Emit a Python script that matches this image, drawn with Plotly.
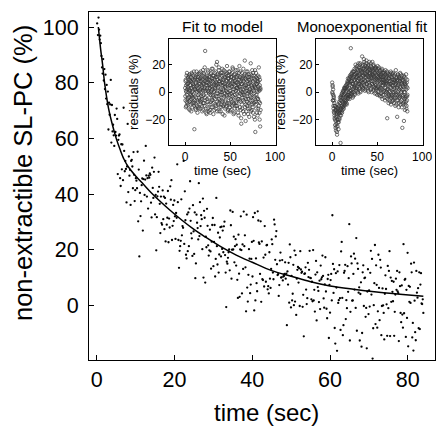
import plotly.graph_objects as go

# ---------------- data ----------------
# main panel: measured points (time in s, non-extractible SL-PC in %)
main_points = [
(0.1,101.3),(0.3,97.1),(0.45,103.4),(0.6,99.1),(0.75,95.5),(0.9,96.9),
(1.05,94.2),(1.2,89.6),(1.35,85.5),(1.5,83.3),(1.65,88.5),(1.8,80.8),(1.95,84.9),
(2.1,77.7),(2.25,82.9),(2.4,74.3),(2.55,79.2),(2.7,72.3),(2.85,76.8),
(3.0,63.2),(3.15,72.8),(3.3,68.5),(3.45,72.2),(3.6,81.0),(3.75,58.5),(3.9,72.0),
(4.05,62.5),(4.2,64.9),(4.35,61.1),(4.5,57.3),(4.65,68.4),(4.8,62.3),(4.95,61.0),
(5.1,70.7),(5.25,67.0),(5.4,47.2),(5.55,59.5),(5.7,61.0),(5.85,61.4),(6.0,45.7),
(6.15,42.9),(6.3,57.9),(6.45,48.9),(6.6,57.8),(6.75,45.0),(6.9,71.0),
(7.05,55.5),(7.2,48.2),(7.35,51.9),(7.5,49.0),(7.65,37.0),(7.8,49.9),(7.95,65.2),
(8.1,40.7),(8.25,53.5),(8.4,46.6),(8.55,48.7),(8.7,36.1),(8.85,51.9),
(9.0,52.3),(9.15,49.9),(9.3,42.1),(9.45,55.1),(9.6,46.9),(9.75,37.5),(9.9,41.4),
(10.05,45.7),(10.2,44.8),(10.35,42.1),(10.5,55.2),(10.65,30.2),(10.8,48.8),(10.95,17.6),
(11.1,40.4),(11.25,32.1),(11.4,37.4),(11.55,43.2),(11.7,45.6),(11.85,26.9),
(12.0,45.4),(12.15,52.0),(12.3,39.7),(12.45,45.2),(12.6,57.3),(12.75,46.7),(12.9,39.1),
(13.05,45.7),(13.2,34.8),(13.35,46.6),(13.5,45.9),(13.65,47.4),(13.8,46.9),(13.95,36.9),
(14.1,31.6),(14.25,49.5),(14.4,42.2),(14.55,38.6),(14.7,48.0),(14.85,53.1),
(15.0,32.7),(15.15,39.7),(15.3,19.8),(15.45,31.7),(15.6,39.2),(15.75,40.9),(15.9,48.0),
(16.05,42.6),(16.2,36.5),(16.35,26.0),(16.5,39.1),(16.65,29.6),(16.8,29.0),(16.95,41.3),
(17.1,31.0),(17.25,39.1),(17.4,27.4),(17.55,38.6),(17.7,23.0),(17.85,36.6),
(18.0,29.0),(18.15,31.5),(18.3,41.1),(18.45,22.7),(18.6,31.2),(18.75,28.0),(18.9,42.8),
(19.05,38.0),(19.2,45.0),(19.35,23.5),(19.5,28.6),(19.65,36.1),(19.8,30.3),(19.95,37.7),
(20.1,32.0),(20.25,23.9),(20.4,33.2),(20.55,31.5),(20.7,50.7),(20.85,37.1),
(21.0,23.5),(21.15,13.5),(21.3,19.6),(21.45,21.3),(21.6,23.2),(21.75,38.1),(21.9,25.2),
(22.05,28.5),(22.2,27.9),(22.35,51.9),(22.5,22.1),(22.65,41.0),(22.8,30.6),(22.95,18.2),
(23.1,16.9),(23.25,32.7),(23.4,19.5),(23.55,33.4),(23.7,21.3),(23.85,34.8),
(24.0,44.6),(24.15,30.4),(24.3,25.9),(24.45,24.1),(24.6,17.8),(24.75,36.0),(24.9,26.6),
(25.05,18.5),(25.2,33.4),(25.35,9.8),(25.5,15.1),(25.65,32.6),(25.8,29.7),(25.95,27.8),
(26.1,23.7),(26.25,43.9),(26.4,24.9),(26.55,37.1),(26.7,28.5),(26.85,32.4),
(27.0,31.0),(27.15,20.2),(27.3,38.4),(27.45,10.0),(27.6,34.0),(27.75,31.5),(27.9,8.2),
(28.05,24.7),(28.2,20.9),(28.35,34.7),(28.5,28.6),(28.65,21.6),(28.8,17.9),(28.95,19.8),
(29.1,27.2),(29.25,19.4),(29.4,13.2),(29.55,22.9),(29.7,28.9),(29.85,31.4),
(30.0,14.1),(30.15,22.8),(30.3,28.9),(30.45,10.4),(30.6,16.7),(30.75,38.6),(30.9,21.3),
(31.05,14.7),(31.2,26.1),(31.35,11.8),(31.5,18.3),(31.65,24.4),(31.8,28.1),(31.95,17.6),
(32.1,28.3),(32.25,20.3),(32.4,26.9),(32.55,19.1),(32.7,28.4),(32.85,30.1),
(33.0,18.1),(33.15,11.8),(33.3,-0.6),(33.45,15.7),(33.6,15.0),(33.75,17.1),(33.9,19.1),
(34.05,20.1),(34.2,12.6),(34.35,34.1),(34.5,28.8),(34.65,9.6),(34.8,20.0),(34.95,33.6),
(35.1,20.1),(35.25,24.7),(35.4,15.5),(35.55,21.3),(35.7,23.8),(35.85,14.3),
(36.0,21.8),(36.15,9.2),(36.3,2.7),(36.45,25.4),(36.6,11.4),(36.75,3.1),(36.9,20.1),
(37.05,32.0),(37.2,19.9),(37.35,4.3),(37.5,21.9),(37.65,13.1),(37.8,33.7),(37.95,21.3),
(38.1,25.2),(38.25,13.7),(38.4,-2.1),(38.55,32.6),(38.7,6.4),(38.85,1.4),
(39.0,11.0),(39.15,20.2),(39.3,16.8),(39.45,4.4),(39.6,7.5),(39.75,16.7),(39.9,22.8),
(40.05,10.4),(40.2,31.7),(40.35,23.2),(40.5,-1.8),(40.65,33.2),(40.8,1.8),(40.95,16.9),
(41.1,8.0),(41.25,5.1),(41.4,33.8),(41.55,30.5),(41.7,22.6),(41.85,22.1),
(42.0,11.3),(42.15,30.2),(42.3,1.3),(42.45,23.0),(42.6,9.4),(42.75,9.1),(42.9,17.2),
(43.05,6.8),(43.2,28.5),(43.35,18.2),(43.5,8.5),(43.65,21.6),(43.8,21.7),(43.95,5.8),
(44.1,6.9),(44.25,4.3),(44.4,19.1),(44.55,9.6),(44.7,6.3),(44.85,13.1),
(45.0,23.7),(45.15,22.0),(45.3,11.8),(45.45,9.4),(45.6,30.8),(45.75,29.1),(45.9,16.4),
(46.05,24.8),(46.2,26.7),(46.35,14.8),(46.5,10.9),(46.65,11.2),(46.8,3.4),(46.95,7.3),
(47.1,16.1),(47.25,19.0),(47.4,10.0),(47.55,10.1),(47.7,16.3),(47.85,9.0),
(48.0,10.4),(48.15,10.6),(48.3,11.3),(48.45,15.5),(48.6,9.6),(48.75,11.4),(48.9,-7.1),
(49.05,12.2),(49.2,7.5),(49.35,15.3),(49.5,1.0),(49.65,21.9),(49.8,17.3),(49.95,-0.7),
(50.1,10.6),(50.25,1.8),(50.4,4.2),(50.55,14.6),(50.7,0.1),(50.85,19.7),
(51.0,1.4),(51.15,18.1),(51.3,-3.4),(51.45,9.6),(51.6,12.8),(51.75,13.8),(51.9,8.2),
(52.05,13.4),(52.2,-0.2),(52.35,19.5),(52.5,12.9),(52.65,11.7),(52.8,12.1),(52.95,-0.5),
(53.1,3.8),(53.25,-11.1),(53.4,11.3),(53.55,11.5),(53.7,13.7),(53.85,5.7),
(54.0,0.5),(54.15,2.6),(54.3,15.3),(54.45,10.2),(54.6,12.8),(54.75,19.6),(54.9,9.9),
(55.05,9.8),(55.2,2.2),(55.35,8.5),(55.5,1.5),(55.65,19.9),(55.8,1.8),(55.95,5.6),
(56.1,-2.2),(56.25,11.1),(56.4,16.0),(56.55,-5.4),(56.7,11.9),(56.85,6.6),
(57.0,5.2),(57.15,1.2),(57.3,8.9),(57.45,-1.3),(57.6,14.3),(57.75,9.4),(57.9,10.1),
(58.05,17.9),(58.2,10.6),(58.35,2.5),(58.5,-0.8),(58.65,7.6),(58.8,17.3),(58.95,5.0),
(59.1,-1.2),(59.25,-4.6),(59.4,9.5),(59.55,11.0),(59.7,-11.7),(59.85,7.4),
(60.0,-2.6),(60.15,9.1),(60.3,11.3),(60.45,1.8),(60.6,32.4),(60.75,14.9),(60.9,4.5),
(61.05,13.0),(61.2,-8.1),(61.35,-13.7),(61.5,11.6),(61.65,6.4),(61.8,-16.3),(61.95,12.2),
(62.1,0.9),(62.25,1.9),(62.4,14.5),(62.55,2.6),(62.7,-8.8),(62.85,19.4),
(63.0,22.8),(63.15,2.7),(63.3,-10.7),(63.45,-7.1),(63.6,11.7),(63.75,12.4),(63.9,14.6),
(64.05,-4.9),(64.2,1.9),(64.35,-1.0),(64.5,14.1),(64.65,4.9),(64.8,9.8),(64.95,29.2),
(65.1,-12.6),(65.25,-2.3),(65.4,17.6),(65.55,15.1),(65.7,1.7),(65.85,1.8),
(66.0,11.3),(66.15,18.6),(66.3,5.7),(66.45,16.8),(66.6,-0.9),(66.75,24.2),(66.9,-9.1),
(67.05,15.1),(67.2,13.1),(67.35,4.6),(67.5,6.5),(67.65,-12.6),(67.8,4.1),(67.95,8.3),
(68.1,-14.8),(68.25,-9.9),(68.4,11.9),(68.55,14.4),(68.7,-0.2),(68.85,9.8),
(69.0,10.0),(69.15,-4.1),(69.3,-0.9),(69.45,-15.4),(69.6,5.0),(69.75,13.0),(69.9,-3.1),
(70.05,5.4),(70.2,-0.4),(70.35,11.7),(70.5,19.6),(70.65,3.9),(70.8,16.7),(70.95,-19.1),
(71.1,-8.2),(71.25,0.1),(71.4,8.0),(71.55,21.7),(71.7,-6.7),(71.85,14.4),
(72.0,7.4),(72.15,-8.0),(72.3,-2.1),(72.45,18.2),(72.6,6.3),(72.75,-5.3),(72.9,16.4),
(73.05,13.6),(73.2,-10.7),(73.35,-0.2),(73.5,6.1),(73.65,0.0),(73.8,-2.7),(73.95,-12.2),
(74.1,4.2),(74.25,10.8),(74.4,5.9),(74.55,0.4),(74.7,-10.9),(74.85,14.2),
(75.0,-1.0),(75.15,12.4),(75.3,19.5),(75.45,-11.0),(75.6,10.0),(75.75,1.3),(75.9,8.8),
(76.05,4.9),(76.2,1.5),(76.35,8.5),(76.5,-10.9),(76.65,-2.3),(76.8,3.9),(76.95,9.6),
(77.1,5.6),(77.25,12.4),(77.4,5.0),(77.55,4.4),(77.7,-12.8),(77.85,11.9),
(78.0,6.9),(78.15,-2.7),(78.3,-6.0),(78.45,7.2),(78.6,-3.3),(78.75,-8.0),(78.9,22.0),
(79.05,-2.8),(79.2,9.2),(79.35,9.5),(79.5,-11.3),(79.65,5.6),(79.8,-4.5),(79.95,18.9),
(80.1,-14.7),(80.25,7.0),(80.4,1.3),(80.55,6.7),(80.7,0.9),(80.85,15.0),
(81.0,11.9),(81.15,-11.5),(81.3,-6.3),(81.45,-16.2),(81.6,15.4),(81.75,1.7),(81.9,-9.6),
(82.05,-12.5),(82.2,12.4),(82.35,4.6),(82.5,2.8),(82.65,6.2),(82.8,-8.2),(82.95,11.9),
(83.1,-8.5),(83.25,7.5),(83.4,11.6),(83.55,0.7),(83.7,0.5),(83.85,2.2),(84.0,-2.7),
]
main_t = [p[0] for p in main_points]
main_v = [p[1] for p in main_points]

# fitted model curve
curve_t = [0.4, 1, 1.5, 2, 3, 4, 5, 6, 7, 8, 10, 12, 14, 16, 19, 22, 25, 28,
           32, 36, 40, 45, 50, 55, 60, 66, 72, 78, 84]
curve_v = [100, 92, 86.5, 80, 71, 65, 60, 56, 52.5, 50, 46.5, 43.5, 40.5, 37.8,
           34, 30.5, 27.3, 24.5, 21, 18, 15.5, 12.5, 10.5, 8.5, 7, 5.8, 4.8, 4, 3.3]

# insets: residual sample times (s), two interleaved batches
inset_t_a = [
0.0,0.3,0.6,0.9,1.2,1.5,1.8,2.1,2.4,2.7,
3.0,3.3,3.6,3.9,4.2,4.5,4.8,5.1,5.4,5.7,
6.0,6.3,6.6,6.9,7.2,7.5,7.8,8.1,8.4,8.7,
9.0,9.3,9.6,9.9,10.2,10.5,10.8,11.1,11.4,11.7,
12.0,12.3,12.6,12.9,13.2,13.5,13.8,14.1,14.4,14.7,
15.0,15.3,15.6,15.9,16.2,16.5,16.8,17.1,17.4,17.7,
18.0,18.3,18.6,18.9,19.2,19.5,19.8,20.1,20.4,20.7,
21.0,21.3,21.6,21.9,22.2,22.5,22.8,23.1,23.4,23.7,
24.0,24.3,24.6,24.9,25.2,25.5,25.8,26.1,26.4,26.7,
27.0,27.3,27.6,27.9,28.2,28.5,28.8,29.1,29.4,29.7,
30.0,30.3,30.6,30.9,31.2,31.5,31.8,32.1,32.4,32.7,
33.0,33.3,33.6,33.9,34.2,34.5,34.8,35.1,35.4,35.7,
36.0,36.3,36.6,36.9,37.2,37.5,37.8,38.1,38.4,38.7,
39.0,39.3,39.6,39.9,40.2,40.5,40.8,41.1,41.4,41.7,
42.0,42.3,42.6,42.9,43.2,43.5,43.8,44.1,44.4,44.7,
45.0,45.3,45.6,45.9,46.2,46.5,46.8,47.1,47.4,47.7,
48.0,48.3,48.6,48.9,49.2,49.5,49.8,50.1,50.4,50.7,
51.0,51.3,51.6,51.9,52.2,52.5,52.8,53.1,53.4,53.7,
54.0,54.3,54.6,54.9,55.2,55.5,55.8,56.1,56.4,56.7,
57.0,57.3,57.6,57.9,58.2,58.5,58.8,59.1,59.4,59.7,
60.0,60.3,60.6,60.9,61.2,61.5,61.8,62.1,62.4,62.7,
63.0,63.3,63.6,63.9,64.2,64.5,64.8,65.1,65.4,65.7,
66.0,66.3,66.6,66.9,67.2,67.5,67.8,68.1,68.4,68.7,
69.0,69.3,69.6,69.9,70.2,70.5,70.8,71.1,71.4,71.7,
72.0,72.3,72.6,72.9,73.2,73.5,73.8,74.1,74.4,74.7,
75.0,75.3,75.6,75.9,76.2,76.5,76.8,77.1,77.4,77.7,
78.0,78.3,78.6,78.9,79.2,79.5,79.8,80.1,80.4,80.7,
81.0,81.3,81.6,81.9,82.2,82.5,82.8,83.1,83.4,83.7,
]
inset_t_b = [
0.15,0.45,0.75,1.05,1.35,1.65,1.95,2.25,2.55,2.85,
3.15,3.45,3.75,4.05,4.35,4.65,4.95,5.25,5.55,5.85,
6.15,6.45,6.75,7.05,7.35,7.65,7.95,8.25,8.55,8.85,
9.15,9.45,9.75,10.05,10.35,10.65,10.95,11.25,11.55,11.85,
12.15,12.45,12.75,13.05,13.35,13.65,13.95,14.25,14.55,14.85,
15.15,15.45,15.75,16.05,16.35,16.65,16.95,17.25,17.55,17.85,
18.15,18.45,18.75,19.05,19.35,19.65,19.95,20.25,20.55,20.85,
21.15,21.45,21.75,22.05,22.35,22.65,22.95,23.25,23.55,23.85,
24.15,24.45,24.75,25.05,25.35,25.65,25.95,26.25,26.55,26.85,
27.15,27.45,27.75,28.05,28.35,28.65,28.95,29.25,29.55,29.85,
30.15,30.45,30.75,31.05,31.35,31.65,31.95,32.25,32.55,32.85,
33.15,33.45,33.75,34.05,34.35,34.65,34.95,35.25,35.55,35.85,
36.15,36.45,36.75,37.05,37.35,37.65,37.95,38.25,38.55,38.85,
39.15,39.45,39.75,40.05,40.35,40.65,40.95,41.25,41.55,41.85,
42.15,42.45,42.75,43.05,43.35,43.65,43.95,44.25,44.55,44.85,
45.15,45.45,45.75,46.05,46.35,46.65,46.95,47.25,47.55,47.85,
48.15,48.45,48.75,49.05,49.35,49.65,49.95,50.25,50.55,50.85,
51.15,51.45,51.75,52.05,52.35,52.65,52.95,53.25,53.55,53.85,
54.15,54.45,54.75,55.05,55.35,55.65,55.95,56.25,56.55,56.85,
57.15,57.45,57.75,58.05,58.35,58.65,58.95,59.25,59.55,59.85,
60.15,60.45,60.75,61.05,61.35,61.65,61.95,62.25,62.55,62.85,
63.15,63.45,63.75,64.05,64.35,64.65,64.95,65.25,65.55,65.85,
66.15,66.45,66.75,67.05,67.35,67.65,67.95,68.25,68.55,68.85,
69.15,69.45,69.75,70.05,70.35,70.65,70.95,71.25,71.55,71.85,
72.15,72.45,72.75,73.05,73.35,73.65,73.95,74.25,74.55,74.85,
75.15,75.45,75.75,76.05,76.35,76.65,76.95,77.25,77.55,77.85,
78.15,78.45,78.75,79.05,79.35,79.65,79.95,80.25,80.55,80.85,
81.15,81.45,81.75,82.05,82.35,82.65,82.95,83.25,83.55,83.85,
]

# residuals (%) of the fit to the model
res_model_a = [
3,-6,9,1,-10,12,-2,6,-8,4,
-4,11,0,-12,7,2,-7,13,-1,5,
-9,8,3,-5,14,-3,10,-11,1,6,
-2,12,-8,4,-27,9,-6,2,11,-13,
7,-4,15,0,-10,5,13,-7,3,9,
-12,6,-1,14,-6,10,2,-9,8,-3,
11,-5,4,-14,9,1,16,-8,6,-2,
13,-10,3,8,30,-6,10,-1,-15,7,
2,12,-7,5,-12,15,0,9,-4,6,
-9,11,3,-15,8,-2,14,1,-6,10,
4,-11,17,-3,7,-8,12,0,-13,6,
9,-5,2,15,-10,5,-1,11,22,-7,
3,13,-9,6,-3,18,-14,8,1,-6,
10,-2,14,-11,5,0,12,-7,7,-16,
2,9,-4,16,-9,6,-1,11,-12,4,
-6,13,1,-10,8,19,-3,5,-14,10,
0,7,-8,12,-2,15,-11,3,9,-5,
11,-13,4,-1,14,-7,6,17,-9,2,
-4,10,-15,5,8,-2,13,-10,1,7,
-8,12,3,-12,16,-5,6,0,-17,9,
4,19,-6,11,-1,8,-13,2,-23,6,
-9,14,0,-4,7,-14,10,-2,12,-7,
5,23,-11,3,-21,9,-5,15,1,-10,
8,-3,11,-16,4,13,-8,0,6,-12,
2,9,-6,21,-14,5,-1,12,-9,3,
-11,7,14,-4,1,-18,10,-7,4,16,
-29,3,-9,11,-2,6,-15,8,0,-5,
12,-12,4,18,-7,1,-20,9,-25,2,
]
res_model_b = [
-3,8,-11,5,0,-7,14,2,-5,10,
6,-9,3,12,-4,9,-13,1,8,-6,
11,-2,-14,7,0,13,-8,4,-4,9,
-7,5,15,-10,2,-3,10,-12,6,1,
-9,12,4,-6,9,-15,2,11,-2,-11,
8,-4,13,1,-12,6,-7,15,0,5,
-6,10,-10,3,12,-3,7,-13,14,2,
-8,6,18,-4,1,11,-12,5,9,-16,
10,-5,3,16,-9,1,7,-14,12,-1,
5,-13,9,0,13,-7,4,-11,17,2,
-6,8,-2,12,-16,5,10,-4,1,14,
-9,3,11,-12,7,20,-3,6,-14,9,
-1,12,4,-8,16,-5,8,-11,13,0,
6,-14,9,2,-6,14,-9,17,-2,5,
-10,7,1,12,-3,-17,10,4,15,-7,
3,-11,9,-2,14,0,-8,12,6,-13,
10,-4,15,-9,5,1,-14,8,-1,13,
-6,4,11,-10,7,18,-3,0,10,-16,
6,-8,13,2,-12,9,-4,16,-7,3,
11,-1,-10,7,3,-15,12,5,-5,14,
-3,9,-11,4,15,-7,1,-19,10,-2,
6,-12,11,2,-6,17,-1,8,-16,4,
13,-4,0,10,-9,5,-14,12,3,-7,
-1,15,-12,6,-5,9,1,-18,11,-3,
7,-9,13,0,-4,10,-13,4,16,-6,
2,-15,8,-1,12,-8,5,-3,-20,9,
4,-7,14,-12,6,1,-4,10,-17,7,
-5,8,-10,2,11,-15,5,-8,3,-13,
]

# residuals (%) of the monoexponential fit
res_mono_a = [
7,-1,4,-6,-2,-12,-4,-15,-8,-19,
-10,-24,-14,-21,-28,-13,-23,-17,-31,-15,
-25,-11,-20,-9,-22,-16,-7,-19,-14,-4,
-15,-37,-3,-12,-6,-14,-1,-10,-4,-11,
1,-9,-2,-12,3,-6,2,-8,4,-4,
-7,5,-3,3,-9,6,-2,8,-5,2,
-4,7,0,10,-3,5,12,-1,8,32,
1,11,-2,8,14,2,-4,10,6,15,
0,12,5,17,-1,9,13,3,18,7,
14,2,11,19,4,8,16,-1,12,6,
18,3,13,7,21,0,15,10,5,17,
9,26,4,14,20,2,12,17,7,22,
11,1,16,8,19,4,13,23,6,15,
18,3,12,9,20,0,14,7,17,10,
5,16,12,21,2,10,18,6,13,22,
8,15,1,12,19,4,11,17,-1,9,
14,5,18,2,10,16,7,-2,12,4,
11,17,0,8,13,3,15,-3,9,6,
12,-1,7,16,2,10,-5,14,5,9,
-2,11,6,15,0,8,-6,13,3,10,
7,-4,12,2,-19,9,14,-1,5,-8,
10,1,-6,13,4,-3,8,15,-9,6,
-2,11,5,-7,9,0,14,-4,7,2,
12,-5,3,8,-10,6,16,-1,10,-6,
4,-18,9,0,13,-3,7,-8,11,2,
-4,8,14,-7,3,10,-1,6,-11,12,
-26,5,-3,9,-8,2,-21,11,-5,7,
0,-9,6,-3,13,-12,4,-6,9,-2,
]
res_mono_b = [
0,5,-6,2,-10,-3,-14,-6,-17,-10,
-20,-13,-26,-18,-11,-25,-16,-29,-20,-12,
-14,-22,-12,-27,-15,-10,-20,-13,-8,-17,
-6,-13,-17,-4,-10,-2,-15,-7,-13,0,
-11,-3,-7,1,-10,-1,-6,3,-9,0,
3,-6,1,-8,4,-3,7,-4,10,-2,
6,-2,9,3,-5,11,1,7,-3,13,
8,-1,12,4,0,15,6,-3,11,3,
15,4,9,-2,13,6,20,1,10,14,
3,17,9,12,0,15,6,21,10,2,
12,20,6,16,1,11,18,8,14,4,
15,7,19,12,3,17,9,24,5,13,
20,8,14,2,17,11,21,6,12,18,
7,15,1,19,11,16,4,22,9,13,
14,3,19,8,16,11,0,17,6,12,
16,5,13,20,2,10,14,7,18,3,
6,17,10,-1,13,3,15,9,19,1,
14,4,10,18,-2,12,7,16,2,11,
3,13,-3,9,17,5,11,0,14,7,
9,1,14,-4,7,12,3,16,-1,6,
11,0,8,15,-5,6,2,13,-3,10,
-2,8,12,0,6,-7,11,3,-4,14,
7,-3,10,2,13,-6,5,-1,9,-8,
0,9,-4,13,5,-2,7,-9,11,3,
8,-2,12,-6,5,1,-11,10,-4,6,
10,-3,4,-9,13,0,7,-6,2,9,
-2,8,-9,4,-4,12,0,-7,6,-13,
5,-4,10,-7,2,-10,7,-3,-14,3,
]

inset_t = inset_t_a + inset_t_b
res_model = res_model_a + res_model_b
res_mono = res_mono_a + res_mono_b

main_xticks = [0, 20, 40, 60, 80]
main_yticks = [0, 20, 40, 60, 80, 100]
inset_xticks = [0, 50, 100]
inset_yticks = [-20, 0, 20]

# ---------------- figure ----------------
FONT = "Liberation Sans, Arial, Helvetica, sans-serif"
W, H = 436, 427
L, R, T, B = 89, 1, 12, 67
pw, ph = W - L - R, H - T - B

def px_x(x):
    return (x - L) / pw

def px_y(y):
    return (H - B - y) / ph

fig = go.Figure()
fig.add_trace(go.Scatter(x=main_t, y=main_v, mode="markers",
                         marker=dict(color="black", size=2.3),
                         xaxis="x", yaxis="y", showlegend=False))
fig.add_trace(go.Scatter(x=curve_t, y=curve_v, mode="lines",
                         line=dict(color="black", width=1.5, shape="spline"),
                         xaxis="x", yaxis="y", showlegend=False))
ins_marker = dict(symbol="circle-open", size=3.4, color="#3a3a3a",
                  line=dict(width=0.7, color="#3a3a3a"))
fig.add_trace(go.Scatter(x=inset_t, y=res_model, mode="markers", marker=ins_marker,
                         xaxis="x2", yaxis="y2", showlegend=False))
fig.add_trace(go.Scatter(x=inset_t, y=res_mono, mode="markers", marker=ins_marker,
                         xaxis="x3", yaxis="y3", showlegend=False))

axis_common = dict(showline=True, mirror=True, linecolor="black", linewidth=1.2,
                   ticks="inside", tickcolor="black", showgrid=False,
                   zeroline=False, automargin=False)

inset_x = dict(range=[-18, 101], tickvals=inset_xticks, ticklen=3, tickwidth=1,
               tickfont=dict(size=12),
               title=dict(text="time (sec)", font=dict(size=13), standoff=2))
inset_y = dict(range=[-38.5, 38.7], tickvals=inset_yticks, ticklen=3, tickwidth=1,
               tickfont=dict(size=12),
               title=dict(text="residuals (%)", font=dict(size=13), standoff=3))

fig.update_layout(
    width=W, height=H, margin=dict(l=L, r=R, t=T, b=B),
    paper_bgcolor="white", plot_bgcolor="white",
    font=dict(family=FONT, color="black"),
    hovermode=False,
    xaxis=dict(**axis_common, domain=[0, 1], range=[-2, 87], tickvals=main_xticks,
               ticklen=5, tickwidth=1.2, tickfont=dict(size=21.5)),
    yaxis=dict(**axis_common, domain=[0, 1], range=[-19.6, 105.4], tickvals=main_yticks,
               ticklen=5, tickwidth=1.2, tickfont=dict(size=21.5), ticklabelstandoff=5),
    xaxis2=dict(**axis_common, **inset_x, domain=[px_x(169), px_x(276)], anchor="y2"),
    yaxis2=dict(**axis_common, **inset_y, domain=[px_y(145), px_y(39)], anchor="x2"),
    xaxis3=dict(**axis_common, **inset_x, domain=[px_x(316), px_x(423)], anchor="y3"),
    yaxis3=dict(**axis_common, **inset_y, domain=[px_y(145), px_y(39)], anchor="x3"),
    annotations=[
        dict(text="time (sec)", x=px_x(266), y=px_y(412), xref="paper", yref="paper",
             showarrow=False, font=dict(size=24), xanchor="center", yanchor="middle"),
        dict(text="non-extractible SL-PC (%)", x=px_x(23), y=px_y(173),
             xref="paper", yref="paper", textangle=-90, showarrow=False,
             font=dict(size=25.5), xanchor="center", yanchor="middle"),
        dict(text="Fit to model", x=px_x(222), y=px_y(26), xref="paper", yref="paper",
             showarrow=False, font=dict(size=15.5), xanchor="center", yanchor="middle"),
        dict(text="Monoexponential fit", x=px_x(362), y=px_y(26), xref="paper",
             yref="paper", showarrow=False, font=dict(size=15),
             xanchor="center", yanchor="middle"),
    ],
)

# the page is photographed edge to edge: no modebar, no default body margin
fig.write_html("out.html", config={"displayModeBar": False},
               post_script="document.body.style.margin='0px';")
